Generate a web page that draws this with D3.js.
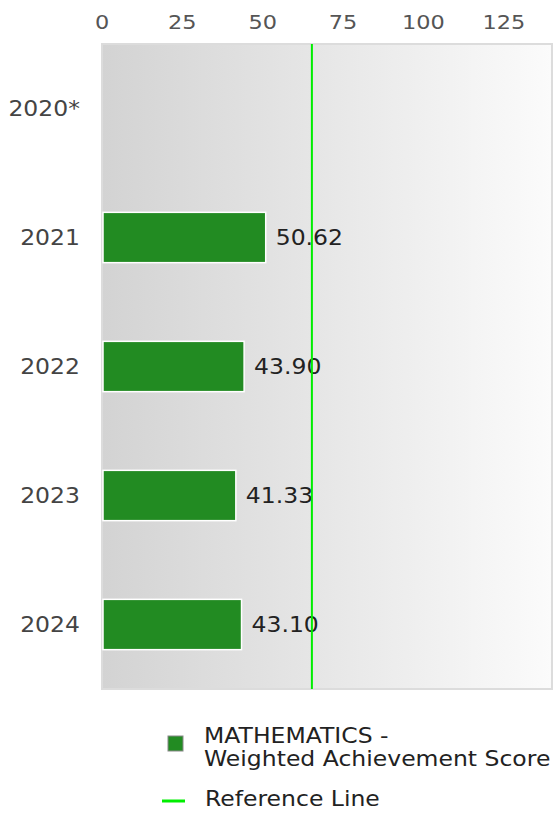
<!DOCTYPE html>
<html>
<head>
<meta charset="utf-8">
<script src="https://cdn.jsdelivr.net/npm/d3@7"></script>
<style>
  body { margin: 0; background: #fff; }
  svg { display: block; font-family: "DejaVu Sans", sans-serif; }
</style>
</head>
<body>
<div id="chart"></div>
<script>
// chart data
var years = ["2020*", "2021", "2022", "2023", "2024"];
var scores = [null, 50.62, 43.90, 41.33, 43.10];
var xTicks = [0, 25, 50, 75, 100, 125];
var referenceValue = 65.3;
var seriesName = ["MATHEMATICS -", "Weighted Achievement Score"];
var refName = "Reference Line";

var width = 557, height = 814;
var margin = { top: 44, right: 5, bottom: 125, left: 102 };
var plotW = width - margin.left - margin.right;
var plotH = height - margin.top - margin.bottom;
var sx = 1.12; // text in the original is slightly wide

var svg = d3.select("#chart").append("svg")
    .attr("width", width)
    .attr("height", height);

var defs = svg.append("defs");
var grad = defs.append("linearGradient").attr("id", "bg")
    .attr("x1", "0%").attr("x2", "100%").attr("y1", "0%").attr("y2", "0%");
grad.append("stop").attr("offset", "0%").attr("stop-color", "#d3d3d3");
grad.append("stop").attr("offset", "100%").attr("stop-color", "#fbfbfb");

var x = d3.scaleLinear().domain([0, 140]).range([0, plotW]);
var y = d3.scaleBand().domain(years).range([0, plotH]).paddingInner(0.61).paddingOuter(0.305);

function place(px, py) {
    return "translate(" + px + "," + py + ") scale(" + sx + ",1)";
}

var g = svg.append("g").attr("transform", "translate(" + margin.left + "," + margin.top + ")");

g.append("rect")
    .attr("x", 0).attr("y", 0)
    .attr("width", plotW).attr("height", plotH)
    .attr("fill", "url(#bg)")
    .attr("stroke", "#dcdcdc")
    .attr("stroke-width", 2);

// top axis labels
g.selectAll(".xtick").data(xTicks).enter().append("text")
    .attr("transform", function (d) { return place(x(d), -15); })
    .attr("text-anchor", "middle")
    .attr("fill", "#555")
    .style("font-size", "20px")
    .text(function (d) { return d; });

// category labels
g.selectAll(".ytick").data(years).enter().append("text")
    .attr("transform", function (d) { return place(-22, y(d) + y.bandwidth() / 2); })
    .attr("dy", "0.36em")
    .attr("text-anchor", "end")
    .attr("fill", "#444")
    .style("font-size", "21px")
    .text(function (d) { return d; });

var data = years.map(function (d, i) { return { year: d, value: scores[i] }; })
    .filter(function (d) { return d.value != null; });

g.selectAll(".bar").data(data).enter().append("rect")
    .attr("x", x(0) + 1)
    .attr("y", function (d) { return y(d.year); })
    .attr("width", function (d) { return x(d.value) - x(0); })
    .attr("height", y.bandwidth())
    .attr("fill", "#228b22")
    .attr("stroke", "#fff")
    .attr("stroke-width", 1.5);

g.selectAll(".val").data(data).enter().append("text")
    .attr("transform", function (d) { return place(x(d.value) + 11, y(d.year) + y.bandwidth() / 2); })
    .attr("dy", "0.38em")
    .attr("fill", "#222")
    .style("font-size", "21px")
    .text(function (d) { return d.value.toFixed(2); });

// reference line
g.append("line")
    .attr("x1", x(referenceValue)).attr("x2", x(referenceValue))
    .attr("y1", 0).attr("y2", plotH)
    .attr("stroke", "#00ee00")
    .attr("stroke-width", 2);

// legend
var lg = svg.append("g");
lg.append("rect")
    .attr("x", 168).attr("y", 736)
    .attr("width", 15).attr("height", 15)
    .attr("fill", "#228b22")
    .attr("stroke", "#888")
    .attr("stroke-width", 1);
lg.selectAll(".lt").data(seriesName).enter().append("text")
    .attr("transform", function (d, i) { return place(204, 743 + i * 23); })
    .attr("fill", "#222")
    .style("font-size", "21px")
    .text(function (d) { return d; });
lg.append("line")
    .attr("x1", 162).attr("x2", 185)
    .attr("y1", 801).attr("y2", 801)
    .attr("stroke", "#00ee00")
    .attr("stroke-width", 3);
lg.append("text")
    .attr("transform", place(205, 806))
    .attr("fill", "#222")
    .style("font-size", "21px")
    .text(refName);
</script>
</body>
</html>
